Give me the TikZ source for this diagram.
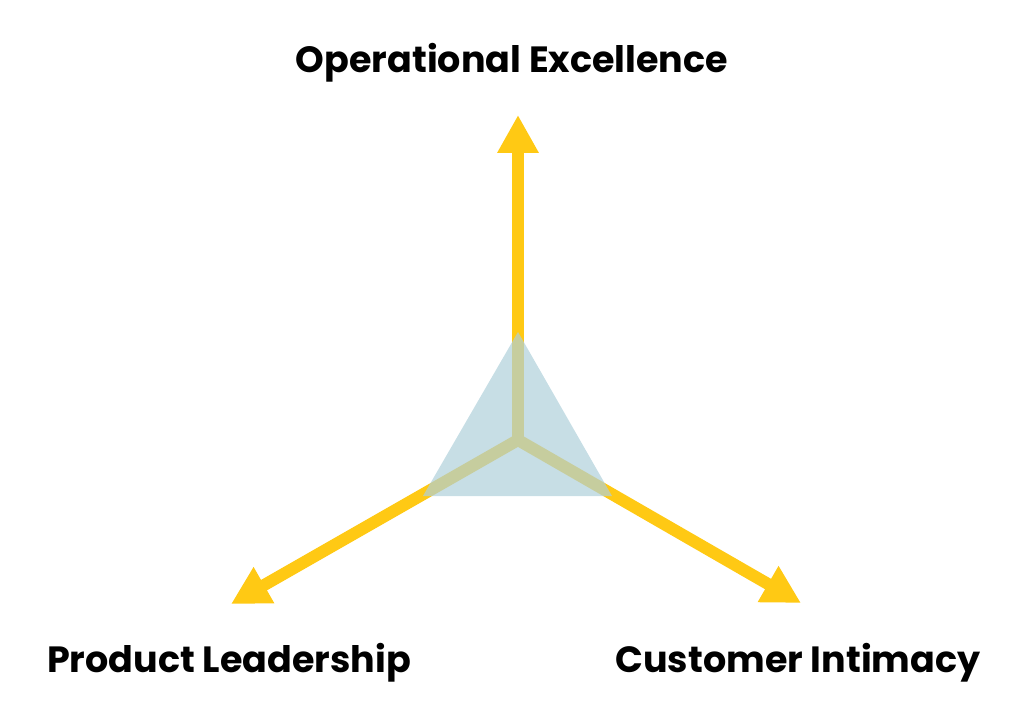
\documentclass[tikz,border=0pt]{standalone}
\usepackage{fontspec}
\setmainfont{Poppins}
\usepackage{tikz}
\usetikzlibrary{arrows.meta}

\definecolor{axisyellow}{HTML}{FFC914}
\definecolor{coreblue}{HTML}{AFD0DA}

\begin{document}
\begin{tikzpicture}
  [x=1pt,y=-1pt,
   axis/.style={draw=axisyellow, line width=12pt,
     -{Triangle[width=39pt,length=38pt]}},
   label/.style={anchor=base, font=\fontsize{36.5}{42}\selectfont\bfseries}]
  \useasboundingbox (0,0) rectangle (1030,719);

  \coordinate (core) at (518,440);
  \coordinate (top)   at (518,115);
  \coordinate (left)  at (231,604);
  \coordinate (right) at (801,603);

  \foreach \tip in {top,left,right}
    \draw[axis] (core) -- (\tip);

  \fill[coreblue, opacity=.7] (518,332) -- (612,496) -- (423,496) -- cycle;

  \node[label] (opex) at (512,73)  {Operational Excellence};
  \node[label] (prod) at (229,672) {Product Leadership};
  \node[label] (cust) at (798,672) {Customer Intimacy};

\end{tikzpicture}
\end{document}
